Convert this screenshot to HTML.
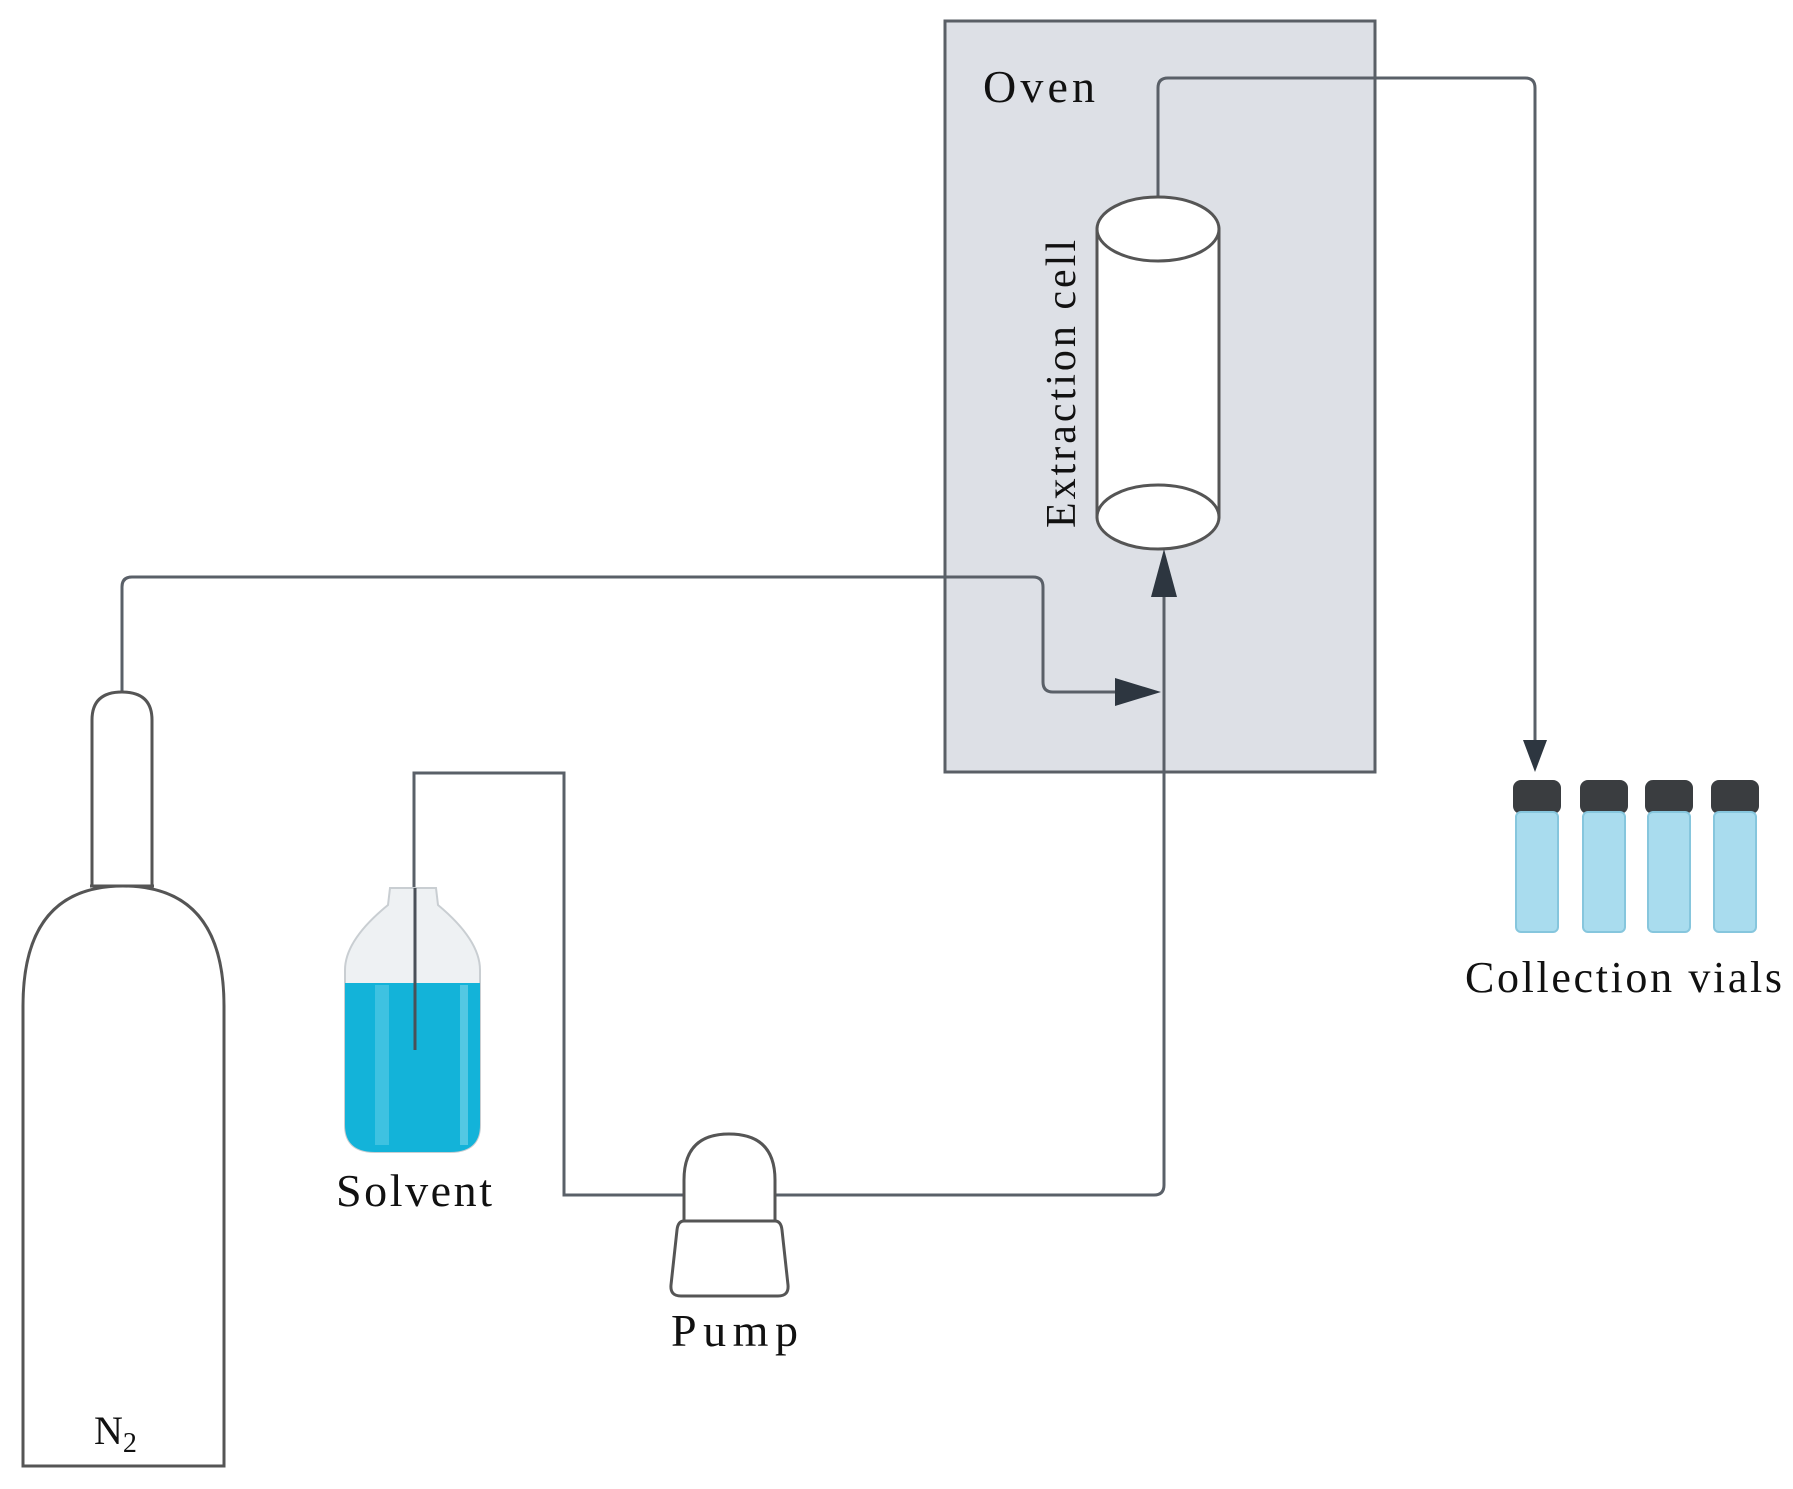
<!DOCTYPE html>
<html><head><meta charset="utf-8"><style>html,body{margin:0;padding:0;background:#fff}svg{display:block}</style></head><body>
<svg width="1793" height="1489" viewBox="0 0 1793 1489" xmlns="http://www.w3.org/2000/svg" font-family="Liberation Serif, serif" fill="none">
<rect x="945" y="21" width="430" height="751" fill="#dde0e6" stroke="#5a5f66" stroke-width="3"/>
<text x="983" y="102" font-size="46" fill="#111" textLength="112">Oven</text>
<path d="M1158 197 V88 Q1158 78 1168 78 H1525 Q1535 78 1535 88 V745" stroke="#5a6068" stroke-width="3"/>
<polygon points="1523,740 1547,740 1535,772" fill="#2d3640"/>
<rect x="1097" y="229" width="122" height="288" fill="#fff" stroke="#555" stroke-width="3"/>
<ellipse cx="1158" cy="229" rx="61" ry="32" fill="#fff" stroke="#555" stroke-width="3"/>
<ellipse cx="1158" cy="517" rx="61" ry="32" fill="#fff" stroke="#555" stroke-width="3"/>
<text transform="translate(1075,528) rotate(-90)" font-size="42" fill="#111" textLength="288">Extraction cell</text>
<path d="M775 1195 H1154 Q1164 1195 1164 1185 V590" stroke="#5a6068" stroke-width="3"/>
<polygon points="1151,597 1177,597 1164,549" fill="#2d3640"/>
<path d="M122 692 V587 Q122 577 132 577 H1033 Q1043 577 1043 587 V682 Q1043 692 1053 692 H1125" stroke="#5a6068" stroke-width="3"/>
<polygon points="1115,678 1115,706 1161,692" fill="#2d3640"/>
<path d="M414 1050 V773 H564 V1195 H684" stroke="#5a6068" stroke-width="3"/>
<path d="M390 888 H436 L438 905 Q480 940 480 970 V1125 Q480 1152 450 1152 H375 Q345 1152 345 1125 V970 Q345 940 388 905 Z" fill="#eef1f3" stroke="#c9ced2" stroke-width="2"/>
<path d="M345 983 H480 V1125 Q480 1152 450 1152 H375 Q345 1152 345 1125 Z" fill="#13b3d9"/>
<rect x="375" y="985" width="14" height="160" fill="#5ccbe6" opacity="0.6"/>
<rect x="460" y="985" width="8" height="160" fill="#7fd6ea" opacity="0.6"/>
<line x1="415" y1="888" x2="415" y2="1050" stroke="#4a5058" stroke-width="3"/>
<text x="336" y="1206" font-size="46" fill="#111" textLength="156">Solvent</text>
<path d="M684 1221 V1180 Q684 1134 729 1134 Q775 1134 775 1180 V1221 Z" fill="#fff" stroke="#555" stroke-width="3"/>
<path d="M684 1221 H775 Q781 1221 782 1230 L788 1285 Q789 1296 778 1296 H681 Q670 1296 671 1285 L677 1230 Q678 1221 684 1221 Z" fill="#fff" stroke="#555" stroke-width="3"/>
<text x="671" y="1346" font-size="46" fill="#111" textLength="127">Pump</text>
<path d="M92 886 V720 Q92 692 122 692 Q152 692 152 720 V886" fill="#fff" stroke="#555" stroke-width="3"/>
<path d="M23 1466 V1006 Q23 886 123 886 Q224 886 224 1006 V1466 Z" fill="#fff" stroke="#555" stroke-width="3"/>
<line x1="90" y1="886" x2="154" y2="886" stroke="#555" stroke-width="3"/>
<text x="94" y="1444" font-size="40" fill="#111">N<tspan font-size="28" dy="8">2</tspan></text>
<g>
<rect x="1513" y="780" width="48" height="34" rx="8" fill="#3a3d40"/>
<rect x="1516" y="812" width="42" height="120" rx="5" fill="#a9dcee" stroke="#86c6dd" stroke-width="2"/>
<rect x="1580" y="780" width="48" height="34" rx="8" fill="#3a3d40"/>
<rect x="1583" y="812" width="42" height="120" rx="5" fill="#a9dcee" stroke="#86c6dd" stroke-width="2"/>
<rect x="1645" y="780" width="48" height="34" rx="8" fill="#3a3d40"/>
<rect x="1648" y="812" width="42" height="120" rx="5" fill="#a9dcee" stroke="#86c6dd" stroke-width="2"/>
<rect x="1711" y="780" width="48" height="34" rx="8" fill="#3a3d40"/>
<rect x="1714" y="812" width="42" height="120" rx="5" fill="#a9dcee" stroke="#86c6dd" stroke-width="2"/>
</g>
<text x="1465" y="992" font-size="44" fill="#111" textLength="317">Collection vials</text>
</svg>
</body></html>
